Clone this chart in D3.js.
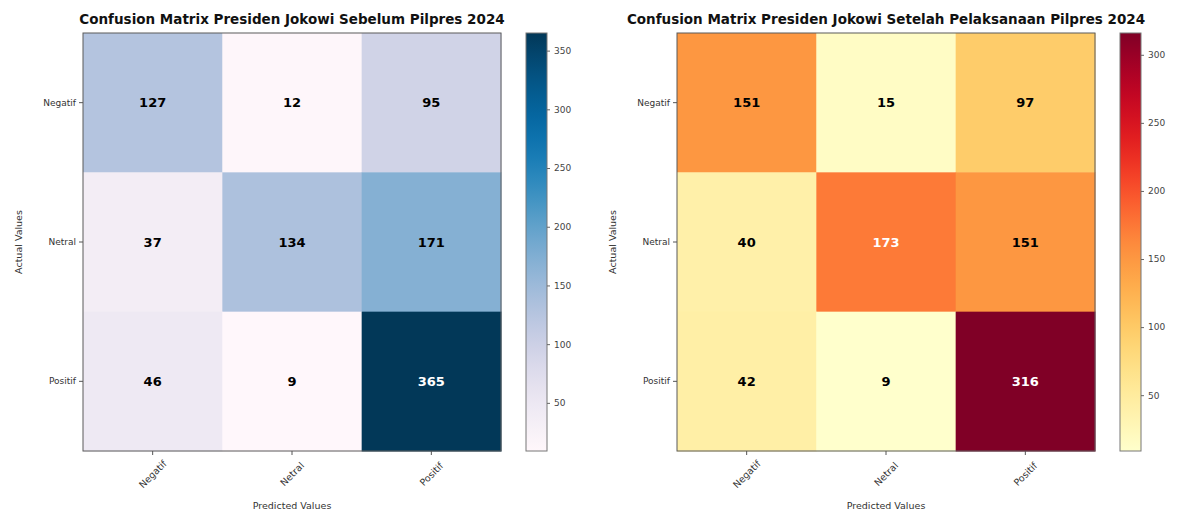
<!DOCTYPE html>
<html lang="en">
<head>
<meta charset="UTF-8">
<title>confusion matrix</title>
<script src="https://cdn.jsdelivr.net/npm/d3@7"></script>
<style>
    body { margin: 0; background: #fff; }
    svg text { font-family: "DejaVu Sans", sans-serif; }
</style>
</head>
<body>
<svg id="chart" width="1177" height="511"></svg>
<script>
    const labels = ['Negatif', 'Netral', 'Positif'];
    const before = [[127, 12, 95], [37, 134, 171], [46, 9, 365]];
    const after = [[151, 15, 97], [40, 173, 151], [42, 9, 316]];
    const titleBefore = 'Confusion Matrix Presiden Jokowi Sebelum Pilpres 2024';
    const titleAfter = 'Confusion Matrix Presiden Jokowi Setelah Pelaksanaan Pilpres 2024';
    const cbTicks = [50, 100, 150, 200, 250, 300, 350];

    const svg = d3.select('#chart');

    function panel(id, left, matrix, title, interp) {
        const size = 418, top = 33;
        const g = svg.append('g').attr('id', id).attr('transform', `translate(${left},${top})`);
        const x = d3.scaleBand().domain(labels).range([0, size]);
        const y = d3.scaleBand().domain(labels).range([0, size]);
        const flat = matrix.flat();
        const vmin = d3.min(flat), vmax = d3.max(flat);
        const color = d3.scaleSequential(interp).domain([vmin, vmax]);
        const cells = [];
        matrix.forEach((row, i) => row.forEach((v, j) => cells.push({a: labels[i], p: labels[j], v})));

        g.selectAll('rect.cell').data(cells).join('rect').attr('class', 'cell')
            .attr('x', d => x(d.p)).attr('y', d => y(d.a))
            .attr('width', x.bandwidth() + 0.5).attr('height', y.bandwidth() + 0.5)
            .attr('fill', d => color(d.v));
        g.selectAll('text.val').data(cells).join('text').attr('class', 'val')
            .attr('x', d => x(d.p) + x.bandwidth() / 2).attr('y', d => y(d.a) + y.bandwidth() / 2)
            .attr('text-anchor', 'middle').attr('dominant-baseline', 'central')
            .attr('font-size', 13).attr('font-weight', 'bold')
            .attr('fill', d => d.v > vmax / 2 ? '#fff' : '#000')
            .text(d => d.v);
        g.append('rect').attr('width', size).attr('height', size)
            .attr('fill', 'none').attr('stroke', '#5a5a5a').attr('stroke-width', 1);

        // ticks
        g.selectAll('line.yt').data(labels).join('line').attr('class', 'yt')
            .attr('x1', -4).attr('x2', 0)
            .attr('y1', d => y(d) + y.bandwidth() / 2).attr('y2', d => y(d) + y.bandwidth() / 2)
            .attr('stroke', '#555');
        g.selectAll('text.yl').data(labels).join('text').attr('class', 'yl')
            .attr('x', -7).attr('y', d => y(d) + y.bandwidth() / 2)
            .attr('text-anchor', 'end').attr('dominant-baseline', 'central')
            .attr('font-size', 9).attr('fill', '#333').text(d => d);
        g.selectAll('line.xt').data(labels).join('line').attr('class', 'xt')
            .attr('y1', size).attr('y2', size + 4)
            .attr('x1', d => x(d) + x.bandwidth() / 2).attr('x2', d => x(d) + x.bandwidth() / 2)
            .attr('stroke', '#555');
        g.selectAll('text.xl').data(labels).join('text').attr('class', 'xl')
            .attr('transform', d => `translate(${x(d) + x.bandwidth() / 2},${size + 23}) rotate(-45)`)
            .attr('text-anchor', 'middle').attr('dominant-baseline', 'central')
            .attr('font-size', 9.5).attr('fill', '#333').text(d => d);

        g.append('text').text(title)
            .attr('x', size / 2).attr('y', -9)
            .attr('text-anchor', 'middle').attr('font-weight', 'bold')
            .attr('font-size', 13.5).attr('fill', '#111');
        g.append('text').text('Predicted Values')
            .attr('x', size / 2).attr('y', size + 58)
            .attr('text-anchor', 'middle').attr('font-size', 9.5).attr('fill', '#333');
        g.append('text').text('Actual Values')
            .attr('transform', `translate(${-61},${size / 2}) rotate(-90)`)
            .attr('text-anchor', 'middle').attr('font-size', 9.5).attr('fill', '#333');

        // colorbar
        const cbx = size + 25, cbw = 21;
        const gradId = id + '-grad';
        const grad = svg.append('defs').append('linearGradient').attr('id', gradId)
            .attr('x1', 0).attr('y1', 1).attr('x2', 0).attr('y2', 0);
        grad.selectAll('stop').data(d3.range(0, 1.0001, 0.05)).join('stop')
            .attr('offset', d => d).attr('stop-color', d => interp(d));
        g.append('rect').attr('x', cbx).attr('width', cbw).attr('height', size)
            .attr('fill', `url(#${gradId})`).attr('stroke', '#777');
        const cy = d3.scaleLinear().domain([vmin, vmax]).range([size, 0]);
        const axis = g.append('g').attr('transform', `translate(${cbx + cbw},0)`)
            .call(d3.axisRight(cy).tickValues(cbTicks.filter(t => t <= vmax)).tickSize(3).tickPadding(4));
        axis.select('.domain').remove();
        axis.selectAll('line').attr('stroke', '#666');
        axis.selectAll('text').attr('font-size', 9).attr('fill', '#444').attr('font-family', 'DejaVu Sans');
    }

    panel('before', 83, before, titleBefore, d3.interpolatePuBu);
    panel('after', 677, after, titleAfter, d3.interpolateYlOrRd);
</script>
</body>
</html>
